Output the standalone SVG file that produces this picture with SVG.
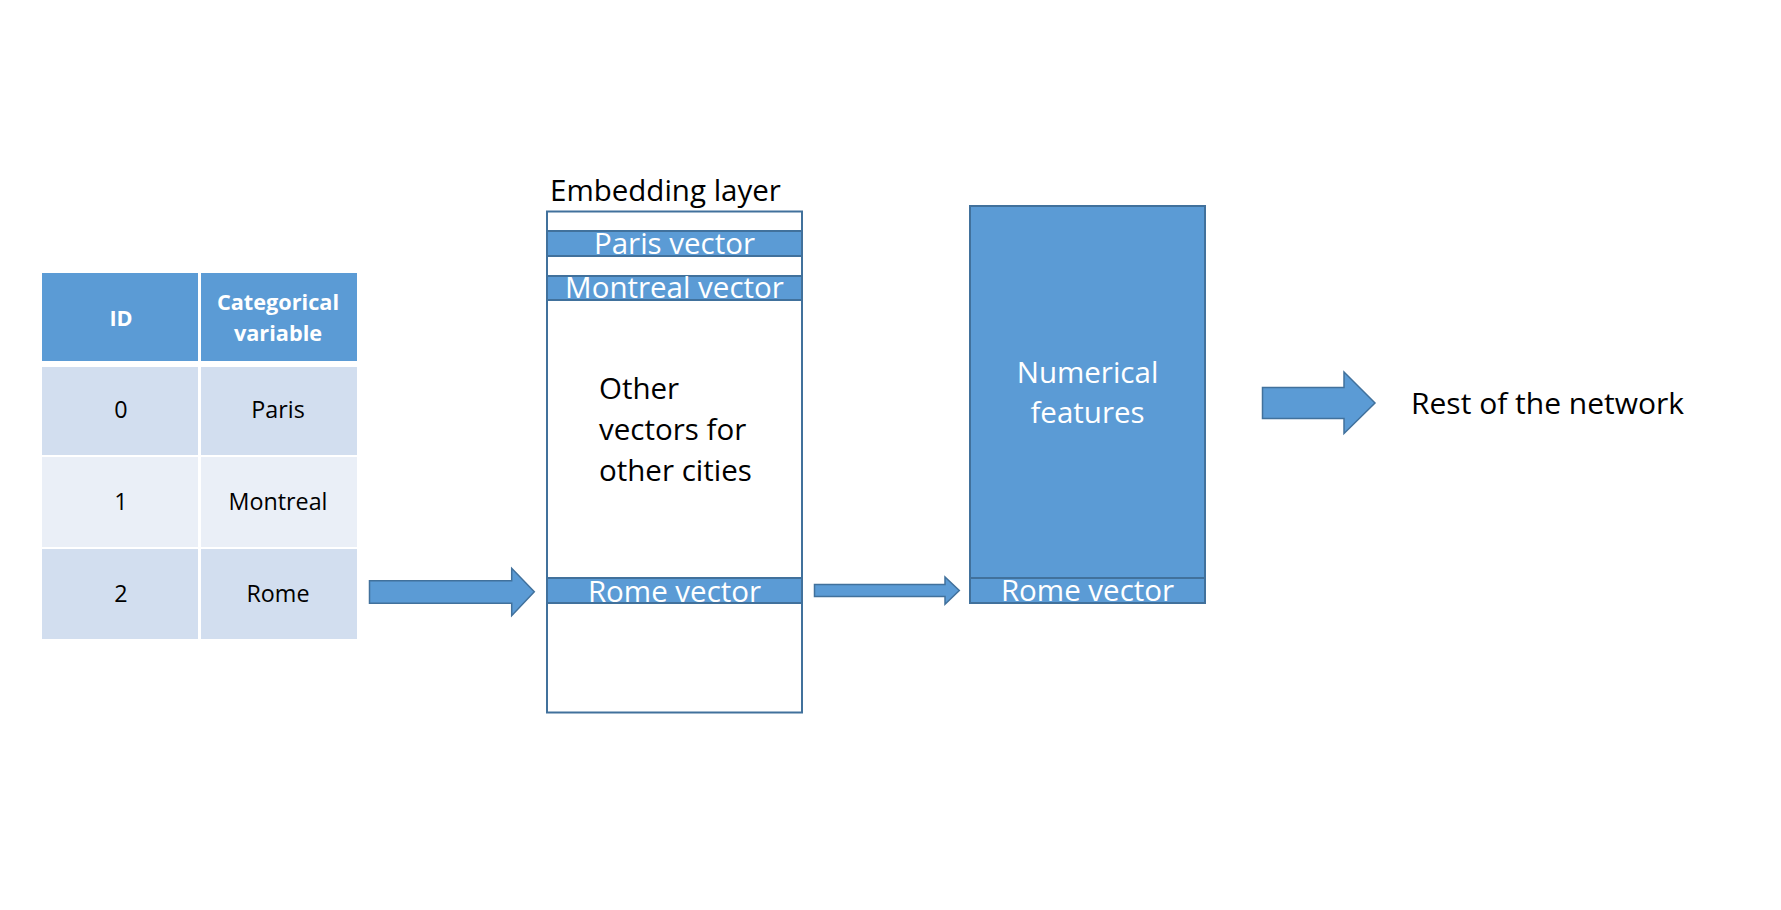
<svg xmlns="http://www.w3.org/2000/svg" width="1781" height="910" viewBox="0 0 1781 910">
<style>
text{font-family:"Open Sans","Liberation Sans",sans-serif;}
.hdr{fill:#5B9BD5;}
.rowA{fill:#D2DEEF;}
.rowB{fill:#EAEFF7;}
.th{fill:#ffffff;font-weight:bold;font-size:21.7px;text-anchor:middle;}
.td{fill:#000000;font-size:23.3px;text-anchor:middle;}
.box{fill:#ffffff;stroke:#41719C;stroke-width:2;}
.band{fill:#5B9BD5;stroke:#41719C;stroke-width:2;}
.wt{fill:#ffffff;font-size:29.5px;text-anchor:middle;}
.bt{fill:#000000;font-size:29.5px;}
.arrow{fill:#5B9BD5;stroke:#41719C;stroke-width:1.5;stroke-linejoin:miter;}
</style>
<rect width="1781" height="910" fill="#ffffff"/>

<g id="table">
  <rect class="hdr" x="42" y="273" width="156" height="88"/>
  <rect class="hdr" x="201" y="273" width="156" height="88"/>
  <rect class="rowA" x="42" y="367" width="156" height="88"/>
  <rect class="rowA" x="201" y="367" width="156" height="88"/>
  <rect class="rowB" x="42" y="457" width="156" height="90"/>
  <rect class="rowB" x="201" y="457" width="156" height="90"/>
  <rect class="rowA" x="42" y="549" width="156" height="90"/>
  <rect class="rowA" x="201" y="549" width="156" height="90"/>
  <text class="th" x="121" y="326">ID</text>
  <text class="th" x="278" y="310">Categorical</text>
  <text class="th" x="278" y="341">variable</text>
  <text class="td" x="121" y="418">0</text>
  <text class="td" x="278" y="418">Paris</text>
  <text class="td" x="121" y="510">1</text>
  <text class="td" x="278" y="510">Montreal</text>
  <text class="td" x="121" y="602">2</text>
  <text class="td" x="278" y="602">Rome</text>
</g>

<g id="embedding-layer">
  <text class="bt" x="550" y="200.5">Embedding layer</text>
  <rect class="box" x="547" y="211.5" width="255" height="501"/>
  <rect class="band" x="547" y="231" width="255" height="25"/>
  <rect class="band" x="547" y="276" width="255" height="24"/>
  <rect class="band" x="547" y="578" width="255" height="25"/>
  <text class="wt" x="674.5" y="254">Paris vector</text>
  <text class="wt" x="674.5" y="297.5">Montreal vector</text>
  <text class="wt" x="674.5" y="601.5">Rome vector</text>
  <text class="bt" x="599" y="399.3">Other</text>
  <text class="bt" x="599" y="440">vectors for</text>
  <text class="bt" x="599" y="480.7">other cities</text>
</g>

<g id="numerical-features">
  <rect class="band" x="970" y="206" width="235" height="397"/>
  <line x1="970" y1="578" x2="1205" y2="578" stroke="#41719C" stroke-width="2"/>
  <text class="wt" x="1087.5" y="382.5">Numerical</text>
  <text class="wt" x="1087.5" y="423">features</text>
  <text class="wt" x="1087.5" y="600.5">Rome vector</text>
</g>

<g id="rest-of-network">
  <text class="bt" x="1411" y="414" style="font-size:30px">Rest of the network</text>
</g>

<g id="connectors">
  <polygon class="arrow" points="369.5,580.7 511.7,580.7 511.7,568.3 534.3,591.7 511.7,615.7 511.7,603.3 369.5,603.3"/>
  <polygon class="arrow" points="814.5,584.5 945,584.5 945,577 959.3,590.5 945,604.3 945,596.5 814.5,596.5"/>
  <polygon class="arrow" points="1262.5,387.5 1344,387.5 1344,372 1375,403 1344,433.5 1344,418.5 1262.5,418.5"/>
</g>
</svg>
